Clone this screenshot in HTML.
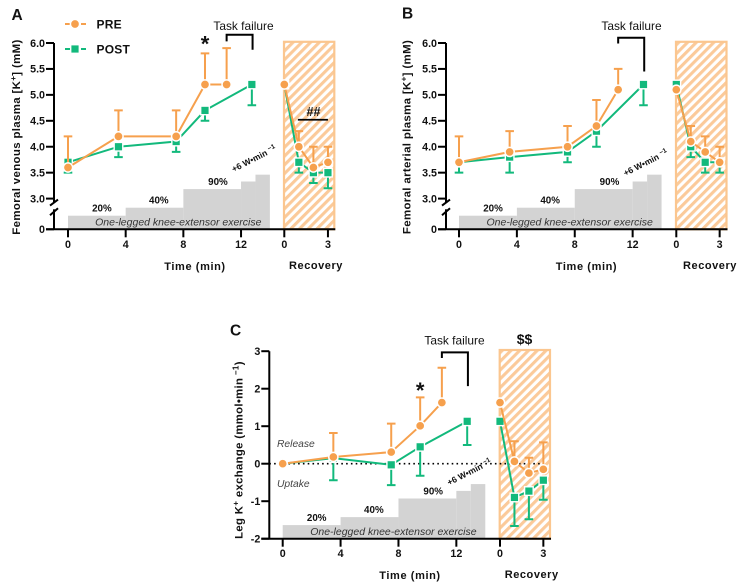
<!DOCTYPE html>
<html lang="en">
<head>
<meta charset="utf-8">
<title>Potassium kinetics during knee-extensor exercise</title>
<style>
html,body{margin:0;padding:0;background:#fff;}
svg{display:block;font-family:"Liberation Sans",sans-serif;}
</style>
</head>
<body>
<svg id="figure" width="745" height="587" viewBox="0 0 745 587" xmlns="http://www.w3.org/2000/svg">
  <defs>
    <pattern id="hatch" patternUnits="userSpaceOnUse" width="6.2" height="6.2" patternTransform="rotate(45)">
      <rect x="0" y="0" width="6.2" height="6.2" fill="#ffffff"></rect>
      <rect x="0" y="0" width="3.1" height="6.2" fill="#fbca9a"></rect>
    </pattern>
  </defs>
  <g id="legend">
    <g>
      <line x1="65" y1="24" x2="86" y2="24" stroke="#f6a04d" stroke-width="2" stroke-dasharray="5 3"></line>
      <circle cx="75" cy="24" r="4.6" fill="#f6a04d" stroke="#fff" stroke-width="1.5"></circle>
      <text x="96.5" y="28.5" font-size="12" font-weight="bold" letter-spacing="0.2" fill="#111">PRE</text>
    </g>
    <g>
      <line x1="65" y1="49" x2="86" y2="49" stroke="#12b97c" stroke-width="2" stroke-dasharray="5 3"></line>
      <rect x="70.7" y="44.7" width="8.6" height="8.6" fill="#12b97c" stroke="#fff" stroke-width="1.4"></rect>
      <text x="96.5" y="53.5" font-size="12" font-weight="bold" letter-spacing="0.2" fill="#111">POST</text>
    </g>
  </g>
</svg>
<script>
/* ---------- data ---------- */
const preTimes = [0, 3.5, 7.5, 9.5, 11];
const postTimes = [0, 3.5, 7.5, 9.5, 12.75];
const recoveryTimes = [0, 1, 2, 3];
const xTickExercise = [0, 4, 8, 12];
const xTickRecovery = [0, 3];
const stepEdges = [0, 4, 8, 12, 13, 14];
const stepLevels = [20, 41, 90, 110, 128];
const stepLabels = ['20%', '40%', '90%'];
const stepLabelTimes = [2.35, 6.3, 10.4];

const yTicksPlasma = [3, 3.5, 4, 4.5, 5, 5.5, 6];
const yTicksExchange = [-2, -1, 0, 1, 2, 3];

const aPre = [3.6, 4.2, 4.2, 5.2, 5.2];
const aPreErr = [4.2, 4.7, 4.7, 5.8, 5.9];
const aPost = [3.7, 4.0, 4.1, 4.7, 5.2];
const aPostErr = [3.5, 3.8, 3.9, 4.5, 4.8];
const aPreRec = [5.2, 4.0, 3.6, 3.7];
const aPreRecErr = [null, 4.3, 4.0, 4.0];
const aPostRec = [5.2, 3.7, 3.5, 3.5];
const aPostRecErr = [null, 3.5, 3.3, 3.2];

const bPre = [3.7, 3.9, 4.0, 4.4, 5.1];
const bPreErr = [4.2, 4.3, 4.4, 4.9, 5.5];
const bPost = [3.7, 3.8, 3.9, 4.3, 5.2];
const bPostErr = [3.5, 3.5, 3.7, 4.0, 4.8];
const bPreRec = [5.1, 4.1, 3.9, 3.7];
const bPreRecErr = [null, 4.4, 4.2, 4.0];
const bPostRec = [5.2, 4.0, 3.7, 3.7];
const bPostRecErr = [null, 3.8, 3.5, 3.5];

const cPre = [0, 0.18, 0.31, 1.01, 1.63];
const cPreErr = [null, 0.82, 1.07, 1.77, 2.56];
const cPost = [0, 0.15, -0.03, 0.45, 1.13];
const cPostErr = [null, -0.44, -0.57, -0.32, 0.5];
const cPreRec = [1.63, 0.06, -0.25, -0.15];
const cPreRecErr = [null, 0.6, 0.16, 0.57];
const cPostRec = [1.13, -0.9, -0.73, -0.44];
const cPostRecErr = [null, -1.66, -1.48, -0.96];

/* ---------- helpers ---------- */
const ORANGE = '#f6a04d', GREEN = '#12b97c', NS = 'http://www.w3.org/2000/svg';
const svg = document.getElementById('figure');
function mk(parent, tag, attrs) {
  const n = document.createElementNS(NS, tag);
  for (const k in attrs) n.setAttribute(k, attrs[k]);
  parent.appendChild(n);
  return n;
}
function axisLine(g, x1, y1, x2, y2, name) {
  const l = mk(g, 'line', {x1, y1, x2, y2, stroke: '#000', 'stroke-width': 2});
  
  
  return l;
}
function label(g, x, y, html, size, weight, anchor, name, extra) {
  const t = mk(g, 'text', Object.assign({x, y, 'font-size': size, 'font-weight': weight, 'text-anchor': anchor, fill: '#111'}, extra || {}));
  t.innerHTML = html;
  
  
  return t;
}
function series(g, key, color, square, xf, yf, times, means, errs) {
  const pts = times.map((t, i) => [xf(t), yf(means[i])]);
  const line = mk(g, 'polyline', {points: pts.map(p => p.join(',')).join(' '), fill: 'none', stroke: color, 'stroke-width': 2});
  
  
  errs.forEach((e, i) => {
    if (e === null) return;
    const px = pts[i][0], ey = yf(e);
    const bar = mk(g, 'path', {d: 'M' + px + ' ' + pts[i][1] + 'V' + ey + 'M' + (px - 4.3) + ' ' + ey + 'H' + (px + 4.3), fill: 'none', stroke: color, 'stroke-width': 2});
    
    
  });
  pts.forEach(p => {
    let m;
    if (square) {
      m = mk(g, 'rect', {x: p[0] - 4.3, y: p[1] - 4.3, width: 8.6, height: 8.6, fill: color, stroke: '#fff', 'stroke-width': 1.4});
    } else {
      m = mk(g, 'circle', {cx: p[0], cy: p[1], r: 4.6, fill: color, stroke: '#fff', 'stroke-width': 1.5});
    }
    
    
  });
}
function drawPanel(c) {
  const g = mk(svg, 'g', {});
  
  
  const xE = t => c.x0 + c.kx * t;
  const xR = t => c.r0 + c.kr * t;
  const base = c.base;

  label(g, c.letterX, c.letterY, c.id.toUpperCase(), 15.5, 'bold', 'start', 'panel-letter');

  const hatch = mk(g, 'rect', {x: c.h0 + 1, y: c.top, width: c.h1 - c.h0 - 2, height: base - c.top, fill: 'url(#hatch)', stroke: '#fbc68f', 'stroke-width': 2.2});
  
  

  stepLevels.forEach((lv, i) => {
    const h = 6 + 0.38 * lv;
    const r = mk(g, 'rect', {x: xE(stepEdges[i]), y: base - h, width: xE(stepEdges[i + 1]) - xE(stepEdges[i]), height: h, fill: '#d3d3d3'});
    
    
  });
  stepLabels.forEach((s, i) => {
    const h = 6 + 0.38 * stepLevels[i];
    label(g, xE(stepLabelTimes[i]), base - h - 4.2, s, 9.8, 'bold', 'middle', 'workload-label');
  });
  label(g, xE(7.65), base - 3.8, 'One-legged knee-extensor exercise', 10.5, 'normal', 'middle', 'exercise-label', {'font-style': 'italic', fill: '#333'});
  const rampX = xE(13.4) - 6, rampY = base - c.rampUp;
  label(g, rampX, rampY, '+6 W•min <tspan dy="-3" font-size="6.5">−1</tspan>', 8.6, 'bold', 'middle', 'ramp-label', {transform: 'rotate(-27 ' + rampX + ' ' + rampY + ')'});

  if (c.zeroLine) {
    const z = mk(g, 'line', {x1: c.axisX, y1: c.y(0), x2: xR(3) - 1, y2: c.y(0), stroke: '#000', 'stroke-width': 1.6, 'stroke-dasharray': '1.6 3.2'});
    
    
  }

  /* y axis */
  if (c.broken) {
    axisLine(g, c.axisX, c.y(6), c.axisX, c.y(3) + 4, 'y-axis-upper');
    axisLine(g, c.axisX, base - 20, c.axisX, base, 'y-axis-lower');
    axisLine(g, c.axisX - 4, c.y(3) + 7, c.axisX + 4, c.y(3) + 1, 'y-axis-break-upper');
    axisLine(g, c.axisX - 4, base - 14, c.axisX + 4, base - 21, 'y-axis-break-lower');
    axisLine(g, c.axisX - 8, base, c.axisX, base, 'y-tick');
    label(g, c.axisX - 9, base + 3.8, '0', 10.7, 'bold', 'end', 'y-tick-label');
  } else {
    axisLine(g, c.axisX, c.y(3), c.axisX, base, 'y-axis');
  }
  c.yTicks.forEach(v => {
    axisLine(g, c.axisX - 8, c.y(v), c.axisX, c.y(v), 'y-tick');
    label(g, c.axisX - 9, c.y(v) + 3.8, c.fmt(v), 10.7, 'bold', 'end', 'y-tick-label');
  });
  /* x axis */
  axisLine(g, c.axisX - 8, base, c.h1, base, 'x-axis');
  xTickExercise.forEach(t => {
    axisLine(g, xE(t), base, xE(t), base + 8, 'x-tick');
    label(g, xE(t), base + 18.5, String(t), 10.7, 'bold', 'middle', 'x-tick-label');
  });
  xTickRecovery.forEach(t => {
    axisLine(g, xR(t), base, xR(t), base + 8, 'x-tick');
    label(g, xR(t), base + 18.5, String(t), 10.7, 'bold', 'middle', 'x-tick-label');
  });
  label(g, c.timeX, base + 40.5, 'Time (min)', 11, 'bold', 'middle', 'x-axis-title', {'letter-spacing': 0.6});
  label(g, c.recX, base + 39.5, 'Recovery', 11, 'bold', 'middle', 'recovery-axis-title', {'letter-spacing': 0.55});
  label(g, c.titleX, c.titleY, c.title, c.titleSize, 'bold', 'middle', 'y-axis-title', {transform: 'rotate(-90 ' + c.titleX + ' ' + c.titleY + ')', 'letter-spacing': 0.35});

  /* task failure bracket */
  const br = mk(g, 'path', {d: 'M' + xE(11) + ' ' + c.y(c.brLeft) + 'V' + c.y(c.brTop) + 'H' + xE(12.8) + 'V' + c.y(c.brRight), fill: 'none', stroke: '#000', 'stroke-width': 2});
  
  
  label(g, c.tfX, c.tfY, 'Task failure', 11.9, 'normal', 'middle', 'task-failure-label');

  /* series */
  series(g, 'post-exercise', GREEN, true, xE, c.y, postTimes, c.post, c.postErr);
  series(g, 'post-recovery', GREEN, true, xR, c.y, recoveryTimes, c.postRec, c.postRecErr);
  series(g, 'pre-exercise', ORANGE, false, xE, c.y, preTimes, c.pre, c.preErr);
  series(g, 'pre-recovery', ORANGE, false, xR, c.y, recoveryTimes, c.preRec, c.preRecErr);

  if (c.star) label(g, xE(9.5), c.star, '*', 22, 'bold', 'middle', 'significance-star');
  return {g, xE, xR};
}

const plasmaY = v => 198.6 - (v - 3) * 51.87;
const exchangeY = v => 463.7 - v * 37.5;
const plasmaFmt = v => v.toFixed(1);
const exchangeFmt = v => String(v);

const pA = drawPanel({
  id: 'a', x0: 68, kx: 14.42, r0: 284.3, kr: 14.55, h0: 283, h1: 335.3, top: 41.8, base: 229.3, axisX: 54,
  y: plasmaY, yTicks: yTicksPlasma, fmt: plasmaFmt, broken: true, letterX: 11.5, letterY: 20, rampUp: 68,
  timeX: 195, recX: 316, titleX: 20, titleY: 137, titleSize: 11.45,
  title: 'Femoral venous plasma [K<tspan dy="-4" font-size="8">+</tspan><tspan dy="4">]</tspan> (mM)',
  brLeft: 6.03, brTop: 6.16, brRight: 5.87, tfX: 243.5, tfY: 30, star: 51.5,
  pre: aPre, preErr: aPreErr, post: aPost, postErr: aPostErr, preRec: aPreRec, preRecErr: aPreRecErr, postRec: aPostRec, postRecErr: aPostRecErr
});
const pB = drawPanel({
  id: 'b', x0: 459, kx: 14.47, r0: 676.3, kr: 14.45, h0: 675, h1: 727.5, top: 41.8, base: 229.3, axisX: 446,
  y: plasmaY, yTicks: yTicksPlasma, fmt: plasmaFmt, broken: true, letterX: 402, letterY: 18.5, rampUp: 64,
  timeX: 586.5, recX: 710, titleX: 410.5, titleY: 137, titleSize: 11.45,
  title: 'Femoral arterial plasma [K<tspan dy="-4" font-size="8">+</tspan><tspan dy="4">]</tspan> (mM)',
  brLeft: 5.99, brTop: 6.1, brRight: 5.45, tfX: 631.5, tfY: 30,
  pre: bPre, preErr: bPreErr, post: bPost, postErr: bPostErr, preRec: bPreRec, preRecErr: bPreRecErr, postRec: bPostRec, postRecErr: bPostRecErr
});
const pC = drawPanel({
  id: 'c', x0: 282.7, kx: 14.47, r0: 500, kr: 14.45, h0: 498.7, h1: 551, top: 350, base: 538.7, axisX: 269.3,
  y: exchangeY, yTicks: yTicksExchange, fmt: exchangeFmt, broken: false, zeroLine: true, letterX: 230, letterY: 335.5, rampUp: 64,
  timeX: 410, recX: 531.7, titleX: 242.5, titleY: 450, titleSize: 11.3,
  title: 'Leg K<tspan dy="-4" font-size="8">+</tspan><tspan dy="4"> exchange (mmol•min</tspan><tspan dy="-4" font-size="8"> −1</tspan><tspan dy="4">)</tspan>',
  brLeft: 2.82, brTop: 2.97, brRight: 2.07, tfX: 454.5, tfY: 344.5, star: 398,
  pre: cPre, preErr: cPreErr, post: cPost, postErr: cPostErr, preRec: cPreRec, preRecErr: cPreRecErr, postRec: cPostRec, postRecErr: cPostRecErr
});

/* panel annotations */
const hashBar = mk(pA.g, 'line', {x1: pA.xR(1) - 1, y1: plasmaY(4.52), x2: pA.xR(3), y2: plasmaY(4.52), stroke: '#000', 'stroke-width': 1.8});


label(pA.g, 313.5, 116, '##', 12.5, 'bold', 'middle', 'recovery-significance-marker');
label(pC.g, 524.5, 344, '$$', 14, 'bold', 'middle', 'recovery-significance-marker');
label(pC.g, 277, 447, 'Release', 10.3, 'normal', 'start', 'release-label', {'font-style': 'italic', fill: '#444'});
label(pC.g, 277, 487, 'Uptake', 10.3, 'normal', 'start', 'uptake-label', {'font-style': 'italic', fill: '#444'});
</script>
</body>
</html>
